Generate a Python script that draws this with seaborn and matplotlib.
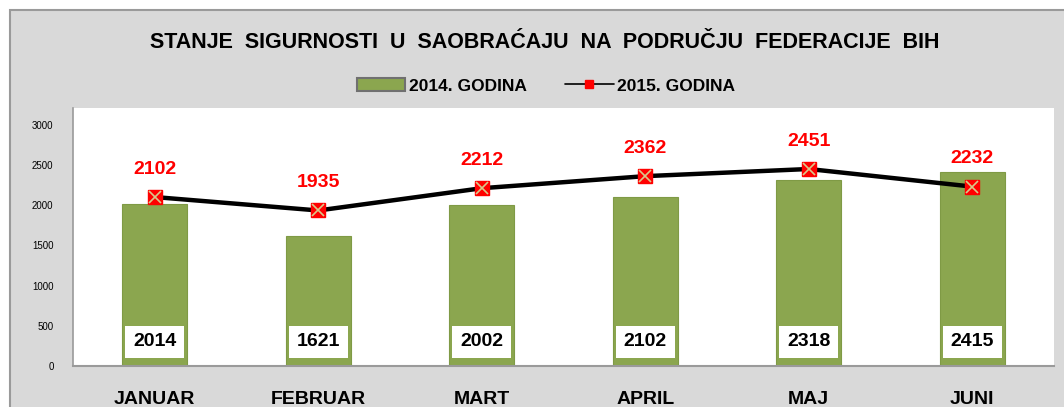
import matplotlib
matplotlib.use("Agg")
import matplotlib.pyplot as plt
import seaborn as sns
import pandas as pd
from matplotlib.patches import Rectangle
from matplotlib.lines import Line2D
from matplotlib.patches import Patch

months = ["JANUAR", "FEBRUAR", "MART", "APRIL", "MAJ", "JUNI"]
values_2014 = [2014, 1621, 2002, 2102, 2318, 2415]
values_2015 = [2102, 1935, 2212, 2362, 2451, 2232]
series_names = ["2014. GODINA", "2015. GODINA"]
title = "STANJE  SIGURNOSTI  U  SAOBRAĆAJU  NA  PODRUČJU  FEDERACIJE  BIH"

sns.set_theme(style="white")
plt.rcParams['font.family'] = ['Liberation Sans', 'DejaVu Sans']

df = pd.DataFrame({"month": months, "y2014": values_2014, "y2015": values_2015})

W, H = 1064, 407
fig = plt.figure(figsize=(W / 100, H / 100), dpi=100, facecolor="white")
# gray chart area with border
bg = Rectangle((10 / W, -0.1), 1.2, (1 - 10 / H) + 0.1,
               transform=fig.transFigure, facecolor="#D9D9D9",
               edgecolor="#9A9A9A", linewidth=1.5, zorder=-10)
fig.patches.append(bg)

ax = fig.add_axes([73 / W, 1 - 366 / H, (1054 - 73) / W, (366 - 108) / H])
ax.set_zorder(5)
ax.set_facecolor("white")

bar_color = "#8BA64F"
sns.barplot(data=df, x="month", y="y2014", color=bar_color, width=0.40,
            saturation=1, ax=ax, zorder=2)
for p in ax.patches:
    p.set_edgecolor("#7F9A45")
    p.set_linewidth(0.8)

x = list(range(len(months)))
sns.lineplot(x=x, y=values_2015, ax=ax, color="black", linewidth=3.2, zorder=3,
             legend=False)
ax.plot(x, values_2015, linestyle="none", marker="s", markersize=10,
        markerfacecolor="red", markeredgecolor="red", zorder=4)
ax.plot(x, values_2015, linestyle="none", marker="x", markersize=9,
        markeredgecolor="#D8C88A", markeredgewidth=1.2, zorder=5)

for xi, v in zip(x, values_2014):
    ax.text(xi, 300, str(v), ha="center", va="center", fontsize=14,
            fontweight="bold", color="black", zorder=6,
            bbox=dict(facecolor="white", edgecolor="none",
                      boxstyle="square,pad=0.4"))
for xi, v in zip(x, values_2015):
    ax.annotate(str(v), (xi, v), xytext=(0, 20), textcoords="offset points",
                ha="center", va="center", fontsize=14, fontweight="bold",
                color="red", zorder=6)

ax.set_xlim(-0.5, 5.5)
ax.set_ylim(0, 3210)
ax.set_yticks([0, 500, 1000, 1500, 2000, 2500, 3000])
ax.set_yticklabels(["0", "500", "1000", "1500", "2000", "2500", "3000"])
ax.set_xlabel("")
ax.set_ylabel("")
ax.tick_params(axis="y", length=0, pad=14, labelsize=7, colors="black")
ax.tick_params(axis="x", length=0, pad=18, labelsize=14, colors="black")
for lbl in ax.get_xticklabels():
    lbl.set_fontweight("bold")
for s in ["top", "right"]:
    ax.spines[s].set_visible(False)
ax.spines["left"].set_color("#9A9A9A")
ax.spines["bottom"].set_color("#9A9A9A")
ax.spines["left"].set_linewidth(1.2)
ax.spines["bottom"].set_linewidth(1.5)

fig.text(545 / W, 1 - 43 / H, title, ha="center", va="center",
         fontsize=15.5, fontweight="bold", color="black")

handles = [Patch(facecolor=bar_color, edgecolor="#707070", linewidth=1.5),
           Line2D([0], [0], color="black", linewidth=1.2, marker="s",
                  markersize=6, markerfacecolor="red", markeredgecolor="red")]
leg = fig.legend(handles, series_names, loc="center", ncol=2,
                 bbox_to_anchor=(546 / W, 1 - 86 / H), frameon=False,
                 prop=dict(weight="bold", size=12.5), columnspacing=2.2,
                 handlelength=2.8, handletextpad=0.2)
for t in leg.get_texts():
    t.set_color("black")

fig.savefig("out.png", dpi=100, facecolor=fig.get_facecolor())
